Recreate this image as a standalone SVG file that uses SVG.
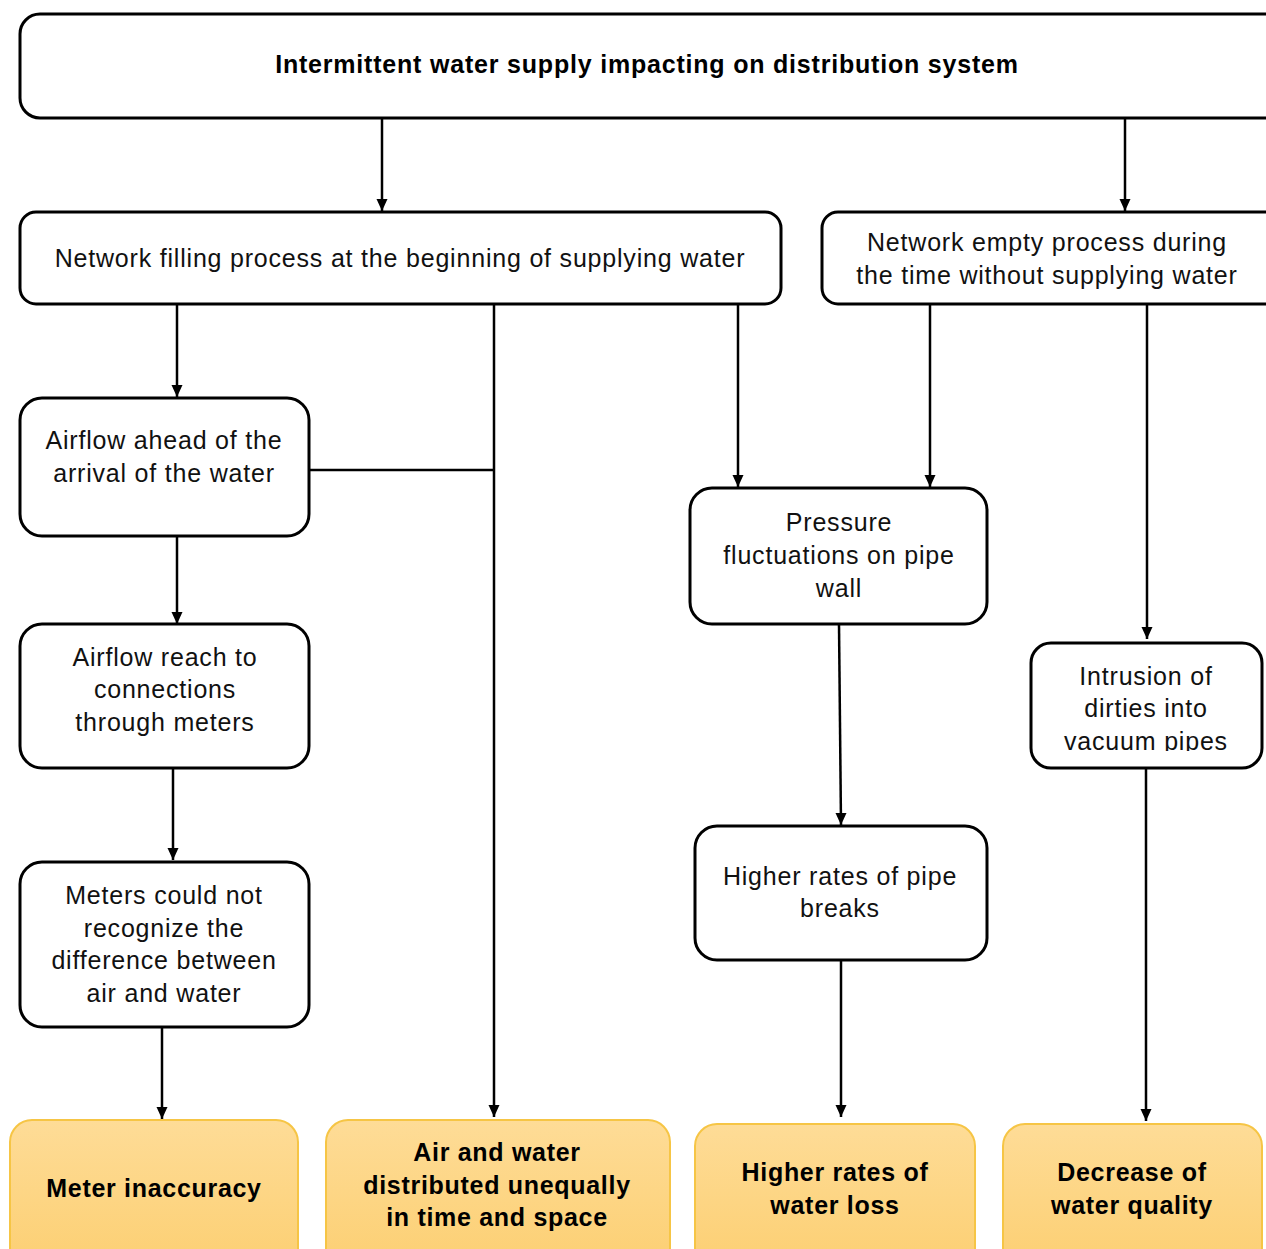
<svg xmlns="http://www.w3.org/2000/svg" width="1266" height="1249" viewBox="0 0 1266 1249">
<defs>
<style>
.box{fill:#fff;stroke:#000;stroke-width:3}
.yel{fill:url(#yg);stroke:#f6c545;stroke-width:2}
.t{font-family:"Liberation Sans",Arial,sans-serif;font-size:25px;letter-spacing:0.8px;fill:#111;text-anchor:middle}
.b{font-weight:bold;fill:#000}
.y{font-size:25px;letter-spacing:0.7px}
.c{fill:none;stroke:#000;stroke-width:2.5}
</style>
<linearGradient id="yg" x1="0" y1="0" x2="0" y2="1">
<stop offset="0" stop-color="#fedc97"/>
<stop offset="1" stop-color="#fccf72"/>
</linearGradient>
<marker id="ad" markerUnits="userSpaceOnUse" markerWidth="12" markerHeight="12" viewBox="0 0 12 12" refX="6" refY="12" orient="0">
<path d="M0.5,0 L11.5,0 L6,12 Z" fill="#000"/>
</marker>
<clipPath id="clipIntr"><rect x="1031" y="643" width="231" height="108"/></clipPath>
</defs>

<g id="connectors">
<path class="c" d="M382,118 V211" marker-end="url(#ad)"/>
<path class="c" d="M1125,118 V211" marker-end="url(#ad)"/>
<path class="c" d="M177,304 V397" marker-end="url(#ad)"/>
<path class="c" d="M494,304 V1117" marker-end="url(#ad)"/>
<path class="c" d="M309,470 H494"/>
<path class="c" d="M738,304 V487" marker-end="url(#ad)"/>
<path class="c" d="M930,304 V487" marker-end="url(#ad)"/>
<path class="c" d="M1147,304 V639" marker-end="url(#ad)"/>
<path class="c" d="M177,536 V624" marker-end="url(#ad)"/>
<path class="c" d="M173,768 V860" marker-end="url(#ad)"/>
<path class="c" d="M162,1027 V1119" marker-end="url(#ad)"/>
<path class="c" d="M839,624 L841,825" marker-end="url(#ad)"/>
<path class="c" d="M841,960 V1117" marker-end="url(#ad)"/>
<path class="c" d="M1146,768 V1121" marker-end="url(#ad)"/>
</g>

<g id="n-top">
<rect class="box" x="20" y="14" width="1270" height="104" rx="20"/>
<text class="t b" x="647" y="73">Intermittent water supply impacting on distribution system</text>
</g>

<g id="n-filling">
<rect class="box" x="20" y="212" width="761" height="92" rx="16"/>
<text class="t" x="400" y="267">Network filling process at the beginning of supplying water</text>
</g>

<g id="n-empty">
<rect class="box" x="822" y="212" width="470" height="92" rx="16"/>
<text class="t" x="1047" y="251">Network empty process during</text>
<text class="t" x="1047" y="284">the time without supplying water</text>
</g>

<g id="n-airflow1">
<rect class="box" x="20" y="398" width="289" height="138" rx="22"/>
<text class="t" x="164" y="449">Airflow ahead of the</text>
<text class="t" x="164" y="482">arrival of the water</text>
</g>

<g id="n-airflow2">
<rect class="box" x="20" y="624" width="289" height="144" rx="22"/>
<text class="t" x="165" y="666">Airflow reach to</text>
<text class="t" x="165" y="698">connections</text>
<text class="t" x="165" y="731">through meters</text>
</g>

<g id="n-meters">
<rect class="box" x="20" y="862" width="289" height="165" rx="22"/>
<text class="t" x="164" y="904">Meters could not</text>
<text class="t" x="164" y="937">recognize the</text>
<text class="t" x="164" y="969">difference between</text>
<text class="t" x="164" y="1002">air and water</text>
</g>

<g id="n-pressure">
<rect class="box" x="690" y="488" width="297" height="136" rx="22"/>
<text class="t" x="839" y="531">Pressure</text>
<text class="t" x="839" y="564">fluctuations on pipe</text>
<text class="t" x="839" y="597">wall</text>
</g>

<g id="n-breaks">
<rect class="box" x="695" y="826" width="292" height="134" rx="22"/>
<text class="t" x="840" y="885">Higher rates of pipe</text>
<text class="t" x="840" y="917">breaks</text>
</g>

<g id="n-intrusion">
<rect class="box" x="1031" y="643" width="231" height="125" rx="20"/>
<g clip-path="url(#clipIntr)">
<text class="t" x="1146" y="685">Intrusion of</text>
<text class="t" x="1146" y="717">dirties into</text>
<text class="t" x="1146" y="750">vacuum pipes</text>
</g>
</g>

<g id="n-meter-inacc">
<rect class="yel" x="10" y="1120" width="288" height="150" rx="22"/>
<text class="t b y" x="154" y="1197">Meter inaccuracy</text>
</g>

<g id="n-airwater">
<rect class="yel" x="326" y="1120" width="344" height="150" rx="22"/>
<text class="t b y" x="497" y="1161">Air and water</text>
<text class="t b y" x="497" y="1194">distributed unequally</text>
<text class="t b y" x="497" y="1226">in time and space</text>
</g>

<g id="n-waterloss">
<rect class="yel" x="695" y="1124" width="280" height="146" rx="22"/>
<text class="t b y" x="835" y="1181">Higher rates of</text>
<text class="t b y" x="835" y="1214">water loss</text>
</g>

<g id="n-quality">
<rect class="yel" x="1003" y="1124" width="259" height="146" rx="22"/>
<text class="t b y" x="1132" y="1181">Decrease of</text>
<text class="t b y" x="1132" y="1214">water quality</text>
</g>
</svg>
